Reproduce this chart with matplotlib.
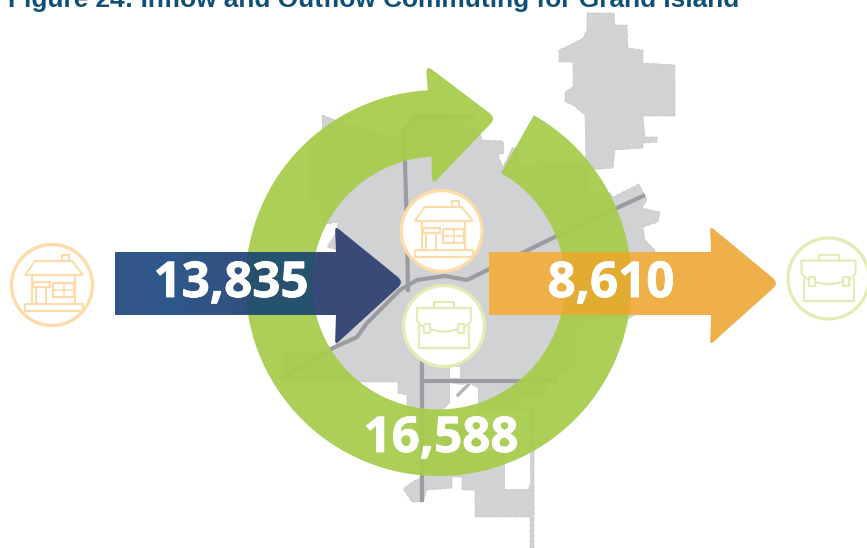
import numpy as np
import matplotlib
matplotlib.use("Agg")
import matplotlib.pyplot as plt
import matplotlib.patheffects as pe
from matplotlib.path import Path
from matplotlib.patches import PathPatch, Circle, Polygon
from matplotlib.colors import LinearSegmentedColormap

TITLE = "Figure 24: Inflow and Outflow Commuting for Grand Island"
INFLOW = "13,835"
OUTFLOW = "8,610"
WITHIN = "16,588"

W, H = 867, 548
fig = plt.figure(figsize=(W / 100, H / 100), dpi=100, facecolor="white")
ax = fig.add_axes([0, 0, 1, 1])
ax.set_xlim(0, W)
ax.set_ylim(H, 0)
ax.axis("off")


def rounded(pts, r):
    """Closed path through pts with selected corners rounded; pts = (x, y, radius factor)."""
    verts, codes = [], []
    n = len(pts)
    for i in range(n):
        p = np.array(pts[i][:2], float)
        rad = pts[i][2] * r
        a = np.array(pts[i - 1][:2], float)
        b = np.array(pts[(i + 1) % n][:2], float)
        if rad == 0:
            verts.append(p)
            codes.append(Path.MOVETO if i == 0 else Path.LINETO)
            continue
        p1 = p + (a - p) / np.linalg.norm(a - p) * rad
        p2 = p + (b - p) / np.linalg.norm(b - p) * rad
        verts += [p1, p, p2]
        codes += [Path.MOVETO if i == 0 else Path.LINETO, Path.CURVE3, Path.CURVE3]
    verts.append(verts[0])
    codes.append(Path.CLOSEPOLY)
    return Path(np.array(verts), codes)


# ---------------- map ----------------
MAP_OUTLINE = [
    (322, 115), (340, 122), (403, 140), (412, 113), (450, 113), (470, 128), (480, 133), (482, 140),
    (503, 141), (504, 153), (498, 155), (503, 167), (512, 148), (518, 148), (518, 165), (537, 165),
    (538, 158), (545, 163), (586, 163), (585, 115), (573, 105), (565, 102), (565, 92), (573, 87),
    (573, 62), (559, 62), (559, 50), (570, 45), (583, 38), (587, 30), (587, 13), (614, 13), (615, 25),
    (627, 25), (628, 48), (643, 50), (643, 63), (675, 65), (675, 116), (643, 116), (645, 137),
    (657, 137), (657, 142), (643, 143), (643, 148), (615, 150), (613, 168), (588, 170), (588, 193),
    (610, 193), (613, 197), (639, 184), (647, 200), (642, 208), (660, 212), (658, 222), (643, 227),
    (645, 240), (655, 250), (655, 300), (630, 318), (588, 320), (575, 330), (575, 365), (547, 383),
    (545, 397), (520, 397), (520, 408), (534, 408), (534, 548), (530, 548), (530, 517), (475, 517),
    (475, 490), (462, 490), (462, 477), (452, 477), (452, 488), (427, 490), (423, 502), (412, 502),
    (403, 489), (412, 482), (420, 478), (420, 440), (407, 410), (407, 395), (398, 393), (398, 382),
    (358, 382), (283, 380), (283, 353), (330, 350), (337, 343), (337, 250), (327, 247), (338, 230),
    (338, 222), (327, 224), (317, 217), (322, 217), (322, 200), (310, 200), (310, 147), (323, 133),
]
GRAY = "#d0d2d4"
ax.add_patch(Polygon(MAP_OUTLINE, closed=True, fc=GRAY, ec="#c2c4c6", lw=0.5, ls=(0, (6, 2)), zorder=1))
MAP_HOLES = [
    [(450, 367), (460, 367), (460, 378), (450, 378)],
    [(450, 383), (462, 385), (468, 383), (478, 388), (478, 407), (470, 425), (443, 425), (443, 410), (450, 403)],
    [(480, 410), (530, 410), (530, 483), (528, 489), (505, 489), (505, 450), (480, 450)],
]
for h in MAP_HOLES:
    ax.add_patch(Polygon(h, closed=True, fc="white", ec="none", zorder=1.1))

# roads
ROADS = [
    ([475, 417, 403, 405, 407, 408], [117, 117, 130, 163, 230, 292]),
    ([645, 563, 467, 445, 417, 400, 367, 357, 333, 280], [195, 233, 280, 276, 280, 290, 323, 337, 348, 380]),
    ([422, 422], [340, 502]),
    ([422, 558], [381, 381]),
]
for rx, ry in ROADS:
    ax.plot(rx, ry, color="#9a9c9f", lw=3.0, solid_capstyle="butt", solid_joinstyle="round", zorder=1.2)
ax.plot([458, 468], [395, 385], color="#b4b6b8", lw=2.5, zorder=1.2)

# ---------------- ring arrow ----------------
cx, cy, R, r = 438.5, 283.0, 193.0, 126.5
a0, a1 = np.radians(60.4), np.radians(93.2 - 360)
th = np.linspace(a0, a1, 240)
outer = np.c_[cx + R * np.cos(th), cy - R * np.sin(th)]
inner = np.c_[cx + r * np.cos(th), cy - r * np.sin(th)][::-1]
HEAD = [(426, 65, 1), (496, 118, 1), (432, 185, 1)]
ring_pts = [(x, y, 0) for x, y in outer] + HEAD + [(x, y, 0) for x, y in inner]
ring_path = rounded(ring_pts, 8)
ax.add_patch(PathPatch(ring_path, fc="#a7cc4c", ec="none", alpha=0.94, zorder=2))

# ---------------- blue arrow ----------------
blue_path = rounded([(115, 252, 0), (336, 252, 0), (335, 226, .6), (404, 282, 1), (335, 345, .6), (336, 315, 0), (115, 315, 0)], 8)
cmap = LinearSegmentedColormap.from_list("b", ["#31578a", "#2f5688", "#344f7e", "#3a4a78", "#3a4a78"])
img = ax.imshow(np.linspace(0, 1, 300).reshape(1, -1), extent=(115, 405, 345, 225), cmap=cmap, aspect="auto", zorder=3)
img.set_clip_path(PathPatch(blue_path, transform=ax.transData))
over_b = PathPatch(ring_path, fc="#27526f", ec="none", zorder=3.1)
ax.add_patch(over_b)
over_b.set_clip_path(PathPatch(blue_path, transform=ax.transData))

# ---------------- orange arrow ----------------
orange_path = rounded([(489, 252, 0), (711, 252, 0), (710, 226, .6), (779, 283, 1), (710, 345, .6), (711, 315, 0), (489, 315, 0)], 8)
ax.add_patch(PathPatch(orange_path, fc="#efb04a", ec="none", zorder=3))
over_o = PathPatch(ring_path, fc="#e2ac32", ec="none", zorder=3.1)
ax.add_patch(over_o)
over_o.set_clip_path(PathPatch(orange_path, transform=ax.transData))
ax.set_xlim(0, W)
ax.set_ylim(H, 0)

# ---------------- icons ----------------
HOUSE_C = "#fddcaa"
CASE_C = "#e3ecb5"


def ln(x, y, xs, ys, c, lw=1.5):
    ax.plot(np.array(xs) + x, np.array(ys) + y, color=c, lw=lw, solid_joinstyle="miter", solid_capstyle="butt", zorder=5)


def house(x, y):
    c = HOUSE_C
    ax.add_patch(Circle((x, y), 40.5, fc="white", ec=c, lw=2.4, zorder=4))
    ln(x, y, [-27, -17, 20, 31, -27], [-10, -24, -24, -10, -10], c)
    ln(x, y, [10, 10, 17, 17], [-24, -30, -30, -24], c)
    ln(x, y, [-20, -20], [-10, 19], c)
    ln(x, y, [23, 23], [-10, 19], c)
    ln(x, y, [-27, 31, 31, -27, -27], [19, 19, 26, 26, 19], c)
    ln(x, y, [-19, -2, -2, -19, -19], [-3, -3, 2, 2, -3], c)
    ln(x, y, [-16, -16], [2, 19], c)
    ln(x, y, [-6, -6], [2, 19], c)
    ln(x, y, [1, 22, 22, 1, 1], [-2, -2, 12, 12, -2], c)
    ln(x, y, [12, 12], [-2, 12], c, 1.2)
    ln(x, y, [1, 22], [5, 5], c, 1.2)


def case(x, y):
    c = CASE_C
    ax.add_patch(Circle((x, y), 40.5, fc="white", ec=c, lw=2.4, zorder=4))
    ln(x, y, [-10, -10, 10, 10], [-18, -24, -24, -18], c)
    ln(x, y, [-20, -27, -27, 27, 27, 20], [2, -5, -18, -18, -5, 2], c)
    ln(x, y, [-25, -25, 25, 25], [-1, 22, 22, -1], c)
    for dx in (-20, 14):
        ln(x, y, [dx, dx + 6, dx + 6, dx, dx], [-2, -2, 7, 7, -2], c)
    t = np.linspace(-14, 14, 20)
    ln(x, y, t, 5.5 - 2.5 * (t / 14) ** 2, c)


house(52, 285)
house(441.7, 231)
case(444, 326)
case(828.5, 278.5)

# ---------------- text ----------------
for s, x, y in [(INFLOW, 231, 297), (OUTFLOW, 611, 297), (WITHIN, 441, 452)]:
    ax.text(x, y, s, ha="center", va="baseline", color="white", fontsize=35.5, fontweight="bold",
            family="Open Sans", zorder=6, path_effects=[pe.withStroke(linewidth=0.6, foreground="white")])
ax.text(8, 7, TITLE, ha="left", va="baseline", color="#0f5176", fontsize=18.9, fontweight="bold",
        family="Liberation Sans", zorder=6)

fig.savefig("out.png", dpi=100, facecolor="white")
